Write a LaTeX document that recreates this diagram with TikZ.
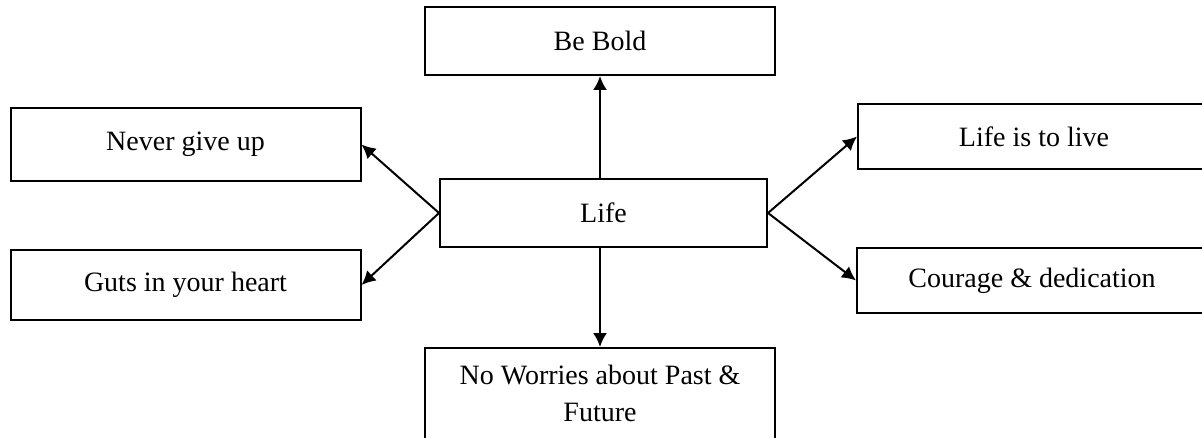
\documentclass[tikz,border=0pt]{standalone}
\usepackage{fontspec}
\setmainfont{Liberation Serif}
\usetikzlibrary{positioning}
\usetikzlibrary{arrows.meta}

\begin{document}
\begin{tikzpicture}[>={Latex[length=7pt,width=7pt]}, x=0.5pt, y=-0.5pt, line width=1pt,
  box/.style={draw, rectangle, minimum width=175pt, minimum height=34pt,
    inner sep=0pt, align=center, font=\fontsize{14}{18.5}\selectfont}]
\useasboundingbox (0,0) rectangle (1202,438);
\clip (0,0) rectangle (1202,438);

\node[box, minimum width=163.5pt] at (603.5,213) (life) {Life};
\node[box] at (600,41) (bold) {Be Bold};
\node[box, minimum height=36.5pt] at (185.5,144.5) (never) {Never give up};
\node[box, minimum height=35pt] at (185.5,285) (guts) {Guts in your heart};
\node[box, minimum width=176pt, minimum height=32.5pt] at (1034,136.5) (live) {Life is to live};
\node[box, minimum height=32.5pt] at (1032,280.5) (courage) {Courage \& dedication};
\node[box, anchor=north, minimum height=0pt, inner ysep=8.5pt, text depth=15pt] at (600,347) (worries)
  {No Worries about Past \&\\ Future};

\draw[->] (bold.south |- life.north) -- (bold.south);
\draw[->] (worries.north |- life.south) -- (worries.north);
\draw[->] (life.west) -- (never.east);
\draw[->] (life.west) -- (guts.east);
\draw[->] (life.east) -- (live.west);
\draw[->] (life.east) -- (courage.west);

\end{tikzpicture}
\end{document}
